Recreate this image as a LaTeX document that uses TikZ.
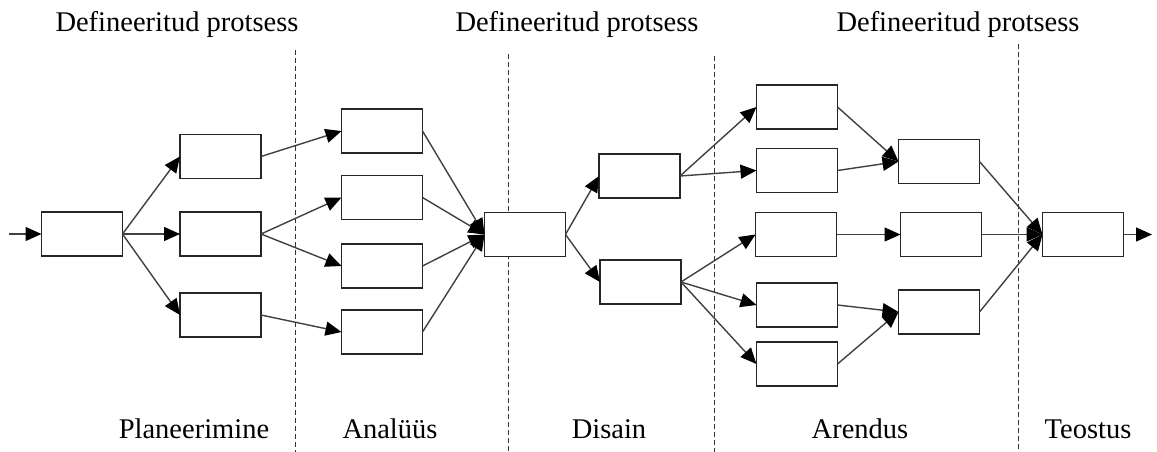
\documentclass[tikz,border=0pt]{standalone}
\usepackage{fontspec}
\setmainfont{Liberation Serif}
\usetikzlibrary{arrows.meta}
\begin{document}
\begin{tikzpicture}[x=1pt,y=-1pt,
  box/.style={draw=black!85, line width=1.4pt, fill=white, minimum width=81pt,
    minimum height=44pt, inner sep=0pt, outer sep=0pt},
  flow/.style={draw=black!75, line width=1.4pt,
    -{Triangle[length=16pt,width=14pt,color=black]}},
  phase/.style={draw=black!80, line width=0.8pt, dash pattern=on 5pt off 3pt},
  lbl/.style={anchor=base, inner sep=0pt, font=\fontsize{28.5}{32}\selectfont}]
\useasboundingbox (0,0) rectangle (1157,452);

% phase separators
\coordinate (s1t) at (295,50);   \coordinate (s1b) at (295,452);
\coordinate (s2t) at (508,54);   \coordinate (s2b) at (508,452);
\coordinate (s3t) at (714,56);   \coordinate (s3b) at (714,452);
\coordinate (s4t) at (1018,44);  \coordinate (s4b) at (1018,452);
\foreach \s in {1,2,3,4} \draw[phase] (s\s t) -- (s\s b);

% boxes
\node[box] (A)  at (82,234) {};
\node[box] (B1) at (220.5,156.5) {};
\node[box] (B2) at (220.5,234) {};
\node[box] (B3) at (220.5,315) {};
\node[box] (C1) at (382,131) {};
\node[box] (C2) at (382,197.5) {};
\node[box] (C3) at (382,266) {};
\node[box] (C4) at (382,332) {};
\node[box] (E1) at (639.5,176) {};
\node[box] (E2) at (640.5,282) {};
\node[box] (F1) at (797,107) {};
\node[box] (F2) at (797,170.5) {};
\node[box] (F3) at (796,234.5) {};
\node[box] (F4) at (797,305) {};
\node[box] (F5) at (797,364) {};
\node[box] (G1) at (939,161.5) {};
\node[box] (G2) at (941,234.5) {};
\node[box] (G3) at (939,312) {};

% connectors
\coordinate (in) at (9,234);
\coordinate (out) at (1152,234.5);
\draw[flow] (in) -- (A.west);
\foreach \t in {B1,B2,B3} \draw[flow] (A.east) -- (\t.west);
\draw[flow] (B1.east) -- (C1.west);
\draw[flow] (B2.east) -- (C2.west);
\draw[flow] (B2.east) -- (C3.west);
\draw[flow] (B3.east) -- (C4.west);
\node[box] (D) at (525,234.5) {};
\foreach \s in {C1,C2,C3,C4} \draw[flow] (\s.east) -- (D.west);
\draw[flow] (D.east) -- (E1.west);
\draw[flow] (D.east) -- (E2.west);
\draw[flow] (E1.east) -- (F1.west);
\draw[flow] (E1.east) -- (F2.west);
\foreach \t in {F3,F4,F5} \draw[flow] (E2.east) -- (\t.west);
\draw[flow] (F1.east) -- (G1.west);
\draw[flow] (F2.east) -- (G1.west);
\draw[flow] (F3.east) -- (G2.west);
\draw[flow] (F4.east) -- (G3.west);
\draw[flow] (F5.east) -- (G3.west);
\node[box] (H) at (1083,234.5) {};
\foreach \s in {G1,G2,G3} \draw[flow] (\s.east) -- (H.west);
\draw[flow] (H.east) -- (out);

% labels
\node[lbl] (t1) at (177,32) {Defineeritud protsess};
\node[lbl] (t2) at (577,32) {Defineeritud protsess};
\node[lbl] (t3) at (958,32) {Defineeritud protsess};
\node[lbl] (p1) at (194,438) {Planeerimine};
\node[lbl] (p2) at (390,438) {Analüüs};
\node[lbl] (p3) at (609,438) {Disain};
\node[lbl] (p4) at (860,438) {Arendus};
\node[lbl] (p5) at (1088,438) {Teostus};
\end{tikzpicture}
\end{document}
